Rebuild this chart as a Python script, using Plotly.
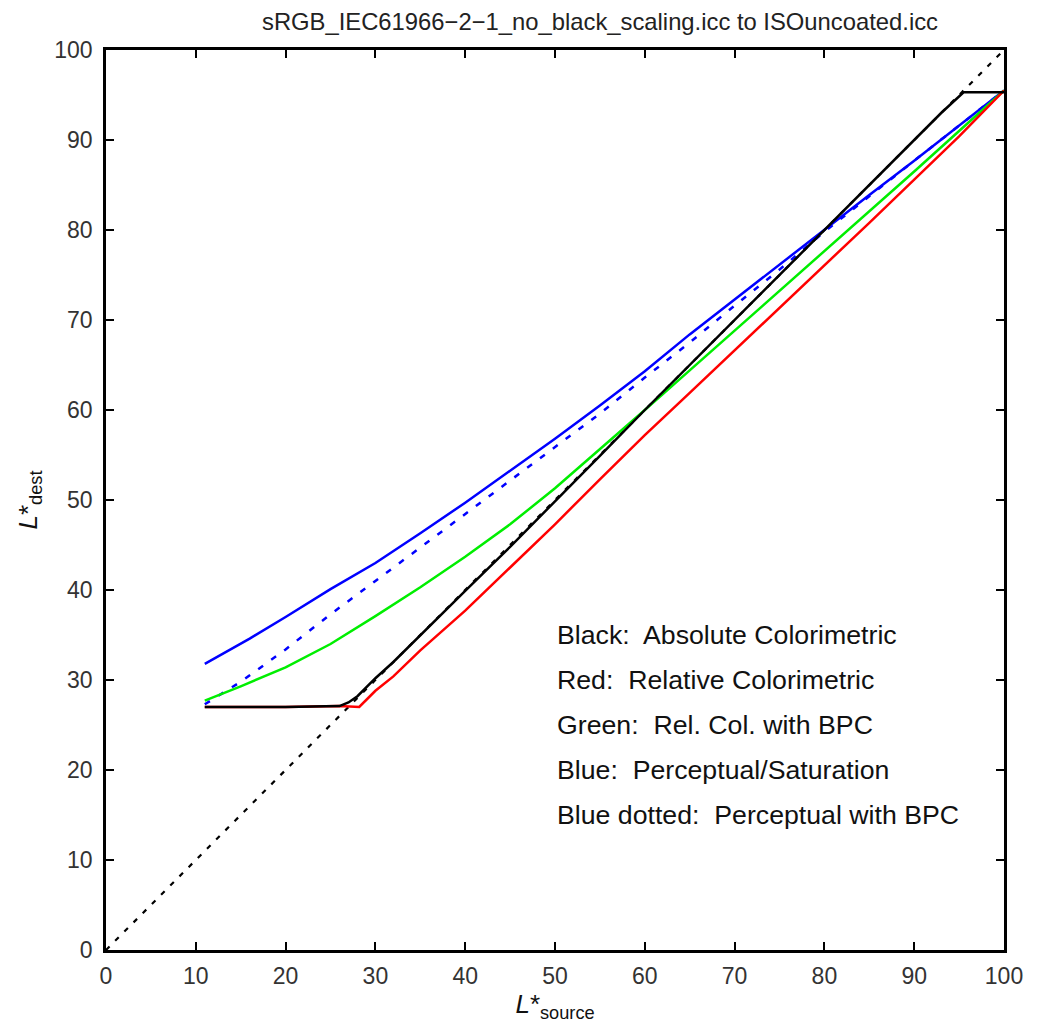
import plotly.graph_objects as go

# ---- data ----
blue_x = [11, 13, 16, 20, 22.7, 25, 30, 35, 40, 45, 50, 55, 60, 65, 70, 75, 80, 85, 90, 95, 100]
blue_y = [31.8, 32.9, 34.6, 37.0, 38.7, 40.1, 43.0, 46.3, 49.7, 53.2, 56.8, 60.5, 64.3, 68.4, 72.3, 76.1, 80.0, 83.9, 87.7, 91.6, 95.5]

bluedot_x = [11, 15, 20, 25, 30, 35, 40, 45, 50, 55, 60, 65, 70, 75, 80, 85, 90, 95, 100]
bluedot_y = [27.3, 29.8, 33.4, 37.3, 41.0, 44.7, 48.5, 52.2, 55.8, 59.6, 63.6, 67.5, 71.6, 75.6, 79.8, 83.8, 87.7, 91.6, 95.5]

green_x = [11, 15, 20, 25, 30, 35, 40, 45, 50, 55, 60, 65, 70, 75, 80, 85, 90, 95, 100]
green_y = [27.7, 29.3, 31.4, 34.0, 37.1, 40.3, 43.7, 47.3, 51.3, 55.6, 60.0, 64.4, 68.8, 73.2, 77.6, 82.0, 86.5, 91.0, 95.5]

red_x = [11, 20, 26, 28.2, 30, 32, 35, 40, 45, 50, 55, 60, 65, 70, 75, 80, 85, 90, 95, 100]
red_y = [27.0, 27.0, 27.1, 27.0, 28.8, 30.4, 33.3, 37.7, 42.5, 47.3, 52.3, 57.2, 61.9, 66.6, 71.4, 76.1, 80.8, 85.6, 90.4, 95.5]

black_x = [11, 20, 26, 27, 28, 30, 32, 35, 40, 45, 50, 55, 60, 65, 70, 75, 80, 85, 90, 93, 95.5, 100]
black_y = [27.0, 27.0, 27.1, 27.5, 28.2, 30.2, 32.0, 35.0, 39.9, 44.8, 49.8, 54.9, 60.0, 65.0, 70.0, 75.0, 80.0, 85.0, 90.0, 93.0, 95.3, 95.3]

diag_x = [0, 100]
diag_y = [0, 100]

legend_lines = [
    "Black:  Absolute Colorimetric",
    "Red:  Relative Colorimetric",
    "Green:  Rel. Col. with BPC",
    "Blue:  Perceptual/Saturation",
    "Blue dotted:  Perceptual with BPC",
]
legend_y = [35, 30, 25, 20, 15]
legend_x = 50

ticks = [0, 10, 20, 30, 40, 50, 60, 70, 80, 90, 100]

FONT = "Liberation Sans, Arial, sans-serif"

fig = go.Figure()
fig.add_trace(go.Scatter(x=diag_x, y=diag_y, mode="lines",
                         line=dict(color="black", width=2.2, dash="5px,8px")))
fig.add_trace(go.Scatter(x=bluedot_x, y=bluedot_y, mode="lines",
                         line=dict(color="#0000ff", width=2.5, dash="6px,10px")))
fig.add_trace(go.Scatter(x=blue_x, y=blue_y, mode="lines",
                         line=dict(color="#0000ff", width=2.5)))
fig.add_trace(go.Scatter(x=green_x, y=green_y, mode="lines",
                         line=dict(color="#00ee00", width=2.5)))
fig.add_trace(go.Scatter(x=red_x, y=red_y, mode="lines",
                         line=dict(color="#ff0000", width=2.5)))
fig.add_trace(go.Scatter(x=black_x, y=black_y, mode="lines",
                         line=dict(color="black", width=2.5)))

for t, yy in zip(legend_lines, legend_y):
    fig.add_annotation(x=legend_x, y=yy, text=t, showarrow=False,
                       xanchor="left", yanchor="middle",
                       font=dict(family=FONT, size=26.7, color="#111111"))

axis_common = dict(range=[0, 100], tickvals=ticks, ticks="inside", ticklen=8,
                   tickwidth=1.5, tickcolor="black", showline=True, linecolor="black",
                   linewidth=2.5, mirror="ticks", showgrid=False, zeroline=False,
                   tickfont=dict(family=FONT, size=23, color="#333333"))

fig.update_xaxes(**axis_common, ticklabelstandoff=4,
                 title=dict(text="<i>L</i>*<sub>source</sub>", standoff=6,
                            font=dict(family=FONT, size=26, color="#111111")))
fig.update_yaxes(**axis_common, ticklabelstandoff=6,
                 title=dict(text="<i>L</i>*<sub>dest</sub>", standoff=10,
                            font=dict(family=FONT, size=26, color="#111111")))

fig.update_layout(
    width=1038, height=1027,
    margin=dict(l=98, r=42, t=42, b=85),
    plot_bgcolor="white", paper_bgcolor="white",
    showlegend=False,
    title=dict(text="sRGB_IEC61966\u22122\u22121_no_black_scaling.icc to ISOuncoated.icc",
               x=592 / 1038, xanchor="center", y=1 - 14 / 1027, yanchor="middle",
               font=dict(family=FONT, size=23.8, color="#222222")),
)

fig.write_html("out.html")
